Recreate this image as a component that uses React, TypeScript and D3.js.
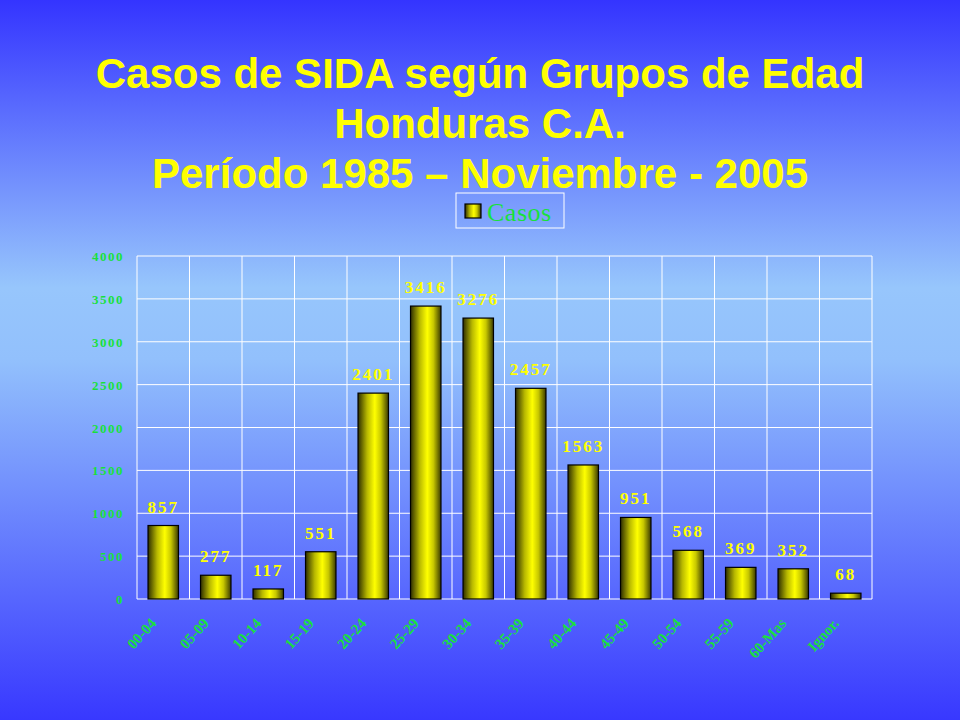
import React from "react";
import * as d3 from "d3";

const categories = ["00-04", "05-09", "10-14", "15-19", "20-24", "25-29", "30-34", "35-39", "40-44", "45-49", "50-54", "55-59", "60-Mas", "Ignor."];
const casos = [857, 277, 117, 551, 2401, 3416, 3276, 2457, 1563, 951, 568, 369, 352, 68];
const yTicks = [0, 500, 1000, 1500, 2000, 2500, 3000, 3500, 4000];
const titleLines = ["Casos de SIDA según Grupos de Edad", "Honduras C.A.", "Período 1985 – Noviembre - 2005"];

export default function App() {
  const W = 960, H = 720;
  const left = 137, right = 872, top = 256, bottom = 599;
  const x = d3.scaleBand<string>().domain(categories).range([left, right]).paddingInner(0).paddingOuter(0);
  const y = d3.scaleLinear().domain([0, 4000]).range([bottom, top]);
  const bw = x.bandwidth() * 0.58;
  const green = "#19e03c";
  return (
    <svg width={W} height={H} style={{ position: "absolute", left: 0, top: 0 }}>
      <defs>
        <linearGradient id="bg" x1="0" y1="0" x2="0" y2="1">
          <stop offset="0" stopColor="#3434ff" />
          <stop offset="0.4" stopColor="#97c6fc" />
          <stop offset="0.5" stopColor="#92c0fc" />
          <stop offset="1" stopColor="#3838ff" />
        </linearGradient>
        <linearGradient id="bar" x1="0" y1="0" x2="1" y2="0">
          <stop offset="0" stopColor="#2e2e00" />
          <stop offset="0.3" stopColor="#b8b800" />
          <stop offset="0.55" stopColor="#ffff00" />
          <stop offset="0.75" stopColor="#c8c800" />
          <stop offset="1" stopColor="#3a3a00" />
        </linearGradient>
      </defs>
      <rect x={0} y={0} width={W} height={H} fill="url(#bg)" />
      {titleLines.map((t, i) => (
        <text key={i} x={480} y={88 + i * 50} textAnchor="middle" fill="#ffff00"
          fontFamily="Liberation Sans, Arial, sans-serif" fontWeight="bold" fontSize={42}>{t}</text>
      ))}
      {/* legend */}
      <rect x={456} y={193} width={108} height={35} fill="none" stroke="#ffffff" strokeWidth={1} />
      <rect x={465} y={204} width={16} height={14} fill="url(#bar)" stroke="#000" strokeWidth={1.2} />
      <text x={487} y={221} fill={green} fontFamily="Liberation Serif, Times New Roman, serif" fontSize={26} letterSpacing={0.5}>Casos</text>
      {/* grid */}
      {yTicks.map((t) => (
        <line key={"h" + t} x1={left} x2={right} y1={y(t)} y2={y(t)} stroke="#fff" strokeWidth={1} />
      ))}
      {categories.map((c) => (
        <line key={"v" + c} x1={x(c)!} x2={x(c)!} y1={top} y2={bottom} stroke="#fff" strokeWidth={1} />
      ))}
      <line x1={right} x2={right} y1={top} y2={bottom} stroke="#fff" strokeWidth={1} />
      {yTicks.map((t) => (
        <text key={"yt" + t} x={124} y={y(t) + 5} textAnchor="end" fill={green}
          fontFamily="Liberation Serif, Times New Roman, serif" fontWeight="bold" fontSize={13} letterSpacing={1.5}>{t}</text>
      ))}
      {categories.map((c, i) => {
        const cx = x(c)! + x.bandwidth() / 2;
        const v = casos[i];
        return (
          <g key={c}>
            <rect x={cx - bw / 2} y={y(v)} width={bw} height={bottom - y(v)} fill="url(#bar)" stroke="#000" strokeWidth={1.2} />
            <text x={cx} y={y(v) - 13} textAnchor="middle" fill="#ffff00"
              fontFamily="Liberation Serif, Times New Roman, serif" fontWeight="bold" fontSize={17} letterSpacing={2}>{v}</text>
            <text transform={`translate(${cx - 6},${624}) rotate(-48)`} textAnchor="end" fill={green}
              fontFamily="Liberation Serif, Times New Roman, serif" fontWeight="bold" fontSize={15}>{c}</text>
          </g>
        );
      })}
    </svg>
  );
}
